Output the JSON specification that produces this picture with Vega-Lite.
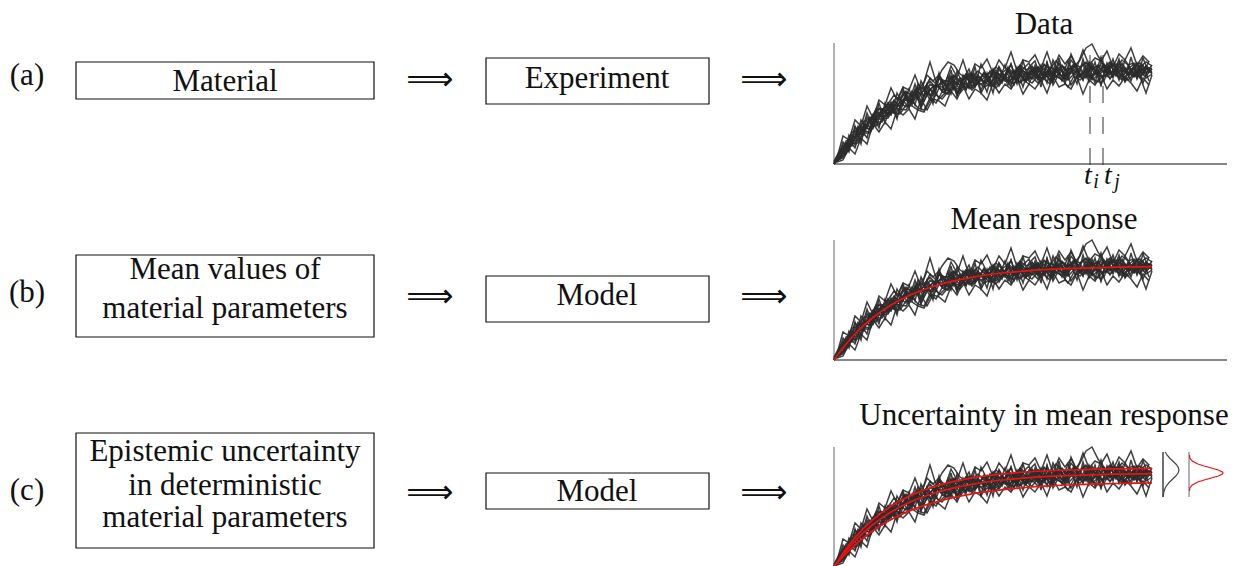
{
"$schema": "https://vega.github.io/schema/vega-lite/v6.json",
"width": 1246, "height": 566, "padding": 0, "autosize": {"type": "none"},
"background": "white",
"config": {"view": {"stroke": null}},
"datasets": {
"boxes": [
{"x1":76,"x2":374,"y1":62,"y2":99},
{"x1":486,"x2":709,"y1":58,"y2":104},
{"x1":76,"x2":374,"y1":255,"y2":337},
{"x1":486,"x2":709,"y1":276,"y2":322},
{"x1":76,"x2":374,"y1":433,"y2":548},
{"x1":486,"x2":709,"y1":473,"y2":509}
],
"labels": [
{"kind":"body","label":"(a)","cx":27,"cy":85},
{"kind":"body","label":"(b)","cx":27,"cy":302},
{"kind":"body","label":"(c)","cx":27,"cy":500},
{"kind":"body","label":"Material","cx":225,"cy":91},
{"kind":"body","label":"Experiment","cx":597,"cy":88},
{"kind":"body","label":"Mean values of","cx":225,"cy":279},
{"kind":"body","label":"material parameters","cx":225,"cy":318},
{"kind":"body","label":"Model","cx":597,"cy":305},
{"kind":"body","label":"Epistemic uncertainty","cx":225,"cy":461},
{"kind":"body","label":"in deterministic","cx":225,"cy":495},
{"kind":"body","label":"material parameters","cx":225,"cy":527},
{"kind":"body","label":"Model","cx":597,"cy":501},
{"kind":"body","label":"Data","cx":1044,"cy":34},
{"kind":"body","label":"Mean response","cx":1044,"cy":229},
{"kind":"body","label":"Uncertainty in mean response","cx":1044,"cy":425},
{"kind":"arrow","label":"⟹","cx":430,"cy":80},
{"kind":"arrow","label":"⟹","cx":764,"cy":80},
{"kind":"arrow","label":"⟹","cx":430,"cy":297},
{"kind":"arrow","label":"⟹","cx":764,"cy":297},
{"kind":"arrow","label":"⟹","cx":430,"cy":493},
{"kind":"arrow","label":"⟹","cx":764,"cy":493},
{"kind":"math","label":"t","cx":1088,"cy":184},
{"kind":"math","label":"t","cx":1108,"cy":184},
{"kind":"sub","label":"i","cx":1096,"cy":188},
{"kind":"sub","label":"j","cx":1117,"cy":188}
],
"rules": [
{"kind":"k","a":834,"b":164,"a2":1227,"b2":164},
{"kind":"k","a":834,"b":360,"a2":1227,"b2":360},
{"kind":"k","a":1163,"b":452,"a2":1163,"b2":497},
{"kind":"g","a":834,"b":43,"a2":834,"b2":164},
{"kind":"g","a":834,"b":240,"a2":834,"b2":360},
{"kind":"g","a":834,"b":447,"a2":834,"b2":566},
{"kind":"g","a":1189,"b":452,"a2":1189,"b2":497},
{"kind":"d","a":1090,"b":165,"a2":1090,"b2":48},
{"kind":"d","a":1103,"b":165,"a2":1103,"b2":48}
],
"bells": [
{"g":"k","o":1,"cx":1165.2,"cy":452},{"g":"k","o":2,"cx":1167.0,"cy":455},{"g":"k","o":3,"cx":1169.6,"cy":458},{"g":"k","o":4,"cx":1172.7,"cy":461},{"g":"k","o":5,"cx":1175.8,"cy":464},{"g":"k","o":6,"cx":1178.1,"cy":467},{"g":"k","o":7,"cx":1179.0,"cy":470},{"g":"k","o":8,"cx":1178.1,"cy":473},{"g":"k","o":9,"cx":1175.8,"cy":476},{"g":"k","o":10,"cx":1172.7,"cy":479},{"g":"k","o":11,"cx":1169.6,"cy":482},{"g":"k","o":12,"cx":1167.0,"cy":485},{"g":"k","o":13,"cx":1165.2,"cy":488},{"g":"k","o":14,"cx":1164.1,"cy":491},{"g":"k","o":15,"cx":1163.5,"cy":494},{"g":"k","o":16,"cx":1163.2,"cy":497},
{"g":"r","o":1,"cx":1189.5,"cy":455},{"g":"r","o":2,"cx":1189.8,"cy":458},{"g":"r","o":3,"cx":1192.2,"cy":461},{"g":"r","o":4,"cx":1197.9,"cy":464},{"g":"r","o":5,"cx":1204.1,"cy":466},{"g":"r","o":6,"cx":1211.5,"cy":468},{"g":"r","o":7,"cx":1218.3,"cy":470},{"g":"r","o":8,"cx":1222.4,"cy":472},{"g":"r","o":9,"cx":1223.0,"cy":473},{"g":"r","o":10,"cx":1222.4,"cy":474},{"g":"r","o":11,"cx":1218.3,"cy":476},{"g":"r","o":12,"cx":1211.5,"cy":478},{"g":"r","o":13,"cx":1204.1,"cy":480},{"g":"r","o":14,"cx":1197.9,"cy":482},{"g":"r","o":15,"cx":1192.2,"cy":485},{"g":"r","o":16,"cx":1189.8,"cy":488},{"g":"r","o":17,"cx":1189.5,"cy":491}
],
"mean": [
{"k":"mid","t":0,"v":0},{"k":"mid","t":6,"v":8.3},{"k":"mid","t":12,"v":15.8},{"k":"mid","t":18,"v":22.7},{"k":"mid","t":24,"v":29.0},{"k":"mid","t":30,"v":34.8},{"k":"mid","t":36,"v":40.0},{"k":"mid","t":42,"v":44.7},{"k":"mid","t":48,"v":49.1},{"k":"mid","t":54,"v":53.0},{"k":"mid","t":60,"v":56.7},{"k":"mid","t":72,"v":62.9},{"k":"mid","t":84,"v":68.2},{"k":"mid","t":96,"v":72.5},{"k":"mid","t":108,"v":76.2},{"k":"mid","t":120,"v":79.2},{"k":"mid","t":138,"v":82.7},{"k":"mid","t":156,"v":85.5},{"k":"mid","t":174,"v":87.5},{"k":"mid","t":192,"v":89.1},{"k":"mid","t":210,"v":90.3},{"k":"mid","t":234,"v":91.4},{"k":"mid","t":258,"v":92.2},{"k":"mid","t":282,"v":92.8},{"k":"mid","t":306,"v":93.2},{"k":"mid","t":318,"v":93.3},
{"k":"up","t":0,"v":0},{"k":"up","t":6,"v":9.4},{"k":"up","t":12,"v":17.9},{"k":"up","t":18,"v":25.7},{"k":"up","t":24,"v":32.6},{"k":"up","t":30,"v":39.0},{"k":"up","t":36,"v":44.7},{"k":"up","t":42,"v":49.8},{"k":"up","t":48,"v":54.5},{"k":"up","t":54,"v":58.7},{"k":"up","t":60,"v":62.6},{"k":"up","t":72,"v":69.2},{"k":"up","t":84,"v":74.6},{"k":"up","t":96,"v":79.0},{"k":"up","t":108,"v":82.6},{"k":"up","t":120,"v":85.6},{"k":"up","t":138,"v":89.1},{"k":"up","t":156,"v":91.6},{"k":"up","t":174,"v":93.6},{"k":"up","t":192,"v":95.0},{"k":"up","t":210,"v":96.0},{"k":"up","t":234,"v":97.0},{"k":"up","t":258,"v":97.7},{"k":"up","t":282,"v":98.1},{"k":"up","t":306,"v":98.4},{"k":"up","t":318,"v":98.5},
{"k":"lo","t":0,"v":0},{"k":"lo","t":6,"v":7.0},{"k":"lo","t":12,"v":13.4},{"k":"lo","t":18,"v":19.3},{"k":"lo","t":24,"v":24.7},{"k":"lo","t":30,"v":29.6},{"k":"lo","t":36,"v":34.2},{"k":"lo","t":42,"v":38.4},{"k":"lo","t":48,"v":42.2},{"k":"lo","t":54,"v":45.7},{"k":"lo","t":60,"v":48.9},{"k":"lo","t":72,"v":54.6},{"k":"lo","t":84,"v":59.4},{"k":"lo","t":96,"v":63.4},{"k":"lo","t":108,"v":66.8},{"k":"lo","t":120,"v":69.7},{"k":"lo","t":138,"v":73.2},{"k":"lo","t":156,"v":75.8},{"k":"lo","t":174,"v":77.9},{"k":"lo","t":192,"v":79.5},{"k":"lo","t":210,"v":80.8},{"k":"lo","t":234,"v":82.0},{"k":"lo","t":258,"v":82.9},{"k":"lo","t":282,"v":83.5},{"k":"lo","t":306,"v":83.9},{"k":"lo","t":318,"v":84.1}
],
"noise": [
{"s":1,"t":0,"v":2},{"s":1,"t":6,"v":5},{"s":1,"t":12,"v":20},{"s":1,"t":18,"v":18},{"s":1,"t":24,"v":35},{"s":1,"t":30,"v":33},{"s":1,"t":36,"v":45},{"s":1,"t":42,"v":38},{"s":1,"t":48,"v":52},{"s":1,"t":54,"v":61},{"s":1,"t":60,"v":53},{"s":1,"t":66,"v":62},{"s":1,"t":72,"v":57},{"s":1,"t":78,"v":73},{"s":1,"t":84,"v":65},{"s":1,"t":90,"v":75},{"s":1,"t":96,"v":64},{"s":1,"t":102,"v":78},{"s":1,"t":108,"v":77},{"s":1,"t":114,"v":73},{"s":1,"t":120,"v":88},{"s":1,"t":126,"v":78},{"s":1,"t":132,"v":88},{"s":1,"t":138,"v":76},{"s":1,"t":144,"v":87},{"s":1,"t":150,"v":81},{"s":1,"t":156,"v":93},{"s":1,"t":162,"v":85},{"s":1,"t":168,"v":92},{"s":1,"t":174,"v":79},{"s":1,"t":180,"v":90},{"s":1,"t":186,"v":96},{"s":1,"t":192,"v":86},{"s":1,"t":198,"v":94},{"s":1,"t":204,"v":84},{"s":1,"t":210,"v":100},{"s":1,"t":216,"v":89},{"s":1,"t":222,"v":94},{"s":1,"t":228,"v":83},{"s":1,"t":234,"v":96},{"s":1,"t":240,"v":93},{"s":1,"t":246,"v":88},{"s":1,"t":252,"v":99},{"s":1,"t":258,"v":87},{"s":1,"t":264,"v":94},{"s":1,"t":270,"v":83},{"s":1,"t":276,"v":99},{"s":1,"t":282,"v":90},{"s":1,"t":288,"v":101},{"s":1,"t":294,"v":91},{"s":1,"t":300,"v":97},{"s":1,"t":306,"v":87},{"s":1,"t":312,"v":96},{"s":1,"t":318,"v":92},
{"s":2,"t":0,"v":0},{"s":2,"t":6,"v":12},{"s":2,"t":12,"v":14},{"s":2,"t":18,"v":29},{"s":2,"t":24,"v":25},{"s":2,"t":30,"v":38},{"s":2,"t":36,"v":34},{"s":2,"t":42,"v":53},{"s":2,"t":48,"v":48},{"s":2,"t":54,"v":48},{"s":2,"t":60,"v":63},{"s":2,"t":66,"v":57},{"s":2,"t":72,"v":67},{"s":2,"t":78,"v":59},{"s":2,"t":84,"v":77},{"s":2,"t":90,"v":68},{"s":2,"t":96,"v":75},{"s":2,"t":102,"v":69},{"s":2,"t":108,"v":83},{"s":2,"t":114,"v":74},{"s":2,"t":120,"v":78},{"s":2,"t":126,"v":86},{"s":2,"t":132,"v":74},{"s":2,"t":138,"v":87},{"s":2,"t":144,"v":81},{"s":2,"t":150,"v":92},{"s":2,"t":156,"v":80},{"s":2,"t":162,"v":88},{"s":2,"t":168,"v":81},{"s":2,"t":174,"v":97},{"s":2,"t":180,"v":84},{"s":2,"t":186,"v":92},{"s":2,"t":192,"v":82},{"s":2,"t":198,"v":95},{"s":2,"t":204,"v":88},{"s":2,"t":210,"v":96},{"s":2,"t":216,"v":82},{"s":2,"t":222,"v":95},{"s":2,"t":228,"v":93},{"s":2,"t":234,"v":85},{"s":2,"t":240,"v":100},{"s":2,"t":246,"v":89},{"s":2,"t":252,"v":87},{"s":2,"t":258,"v":98},{"s":2,"t":264,"v":90},{"s":2,"t":270,"v":100},{"s":2,"t":276,"v":89},{"s":2,"t":282,"v":96},{"s":2,"t":288,"v":85},{"s":2,"t":294,"v":98},{"s":2,"t":300,"v":90},{"s":2,"t":306,"v":99},{"s":2,"t":312,"v":88},{"s":2,"t":318,"v":95},
{"s":3,"t":0,"v":1},{"s":3,"t":6,"v":6},{"s":3,"t":12,"v":21},{"s":3,"t":18,"v":19},{"s":3,"t":24,"v":31},{"s":3,"t":30,"v":29},{"s":3,"t":36,"v":47},{"s":3,"t":42,"v":42},{"s":3,"t":48,"v":55},{"s":3,"t":54,"v":48},{"s":3,"t":60,"v":60},{"s":3,"t":66,"v":52},{"s":3,"t":72,"v":68},{"s":3,"t":78,"v":64},{"s":3,"t":84,"v":80},{"s":3,"t":90,"v":74},{"s":3,"t":96,"v":86},{"s":3,"t":102,"v":80},{"s":3,"t":108,"v":73},{"s":3,"t":114,"v":88},{"s":3,"t":120,"v":74},{"s":3,"t":126,"v":84},{"s":3,"t":132,"v":75},{"s":3,"t":138,"v":91},{"s":3,"t":144,"v":82},{"s":3,"t":150,"v":90},{"s":3,"t":156,"v":79},{"s":3,"t":162,"v":89},{"s":3,"t":168,"v":83},{"s":3,"t":174,"v":95},{"s":3,"t":180,"v":79},{"s":3,"t":186,"v":94},{"s":3,"t":192,"v":86},{"s":3,"t":198,"v":98},{"s":3,"t":204,"v":85},{"s":3,"t":210,"v":92},{"s":3,"t":216,"v":84},{"s":3,"t":222,"v":97},{"s":3,"t":228,"v":87},{"s":3,"t":234,"v":103},{"s":3,"t":240,"v":90},{"s":3,"t":246,"v":96},{"s":3,"t":252,"v":86},{"s":3,"t":258,"v":101},{"s":3,"t":264,"v":89},{"s":3,"t":270,"v":98},{"s":3,"t":276,"v":85},{"s":3,"t":282,"v":95},{"s":3,"t":288,"v":99},{"s":3,"t":294,"v":89},{"s":3,"t":300,"v":96},{"s":3,"t":306,"v":86},{"s":3,"t":312,"v":98},{"s":3,"t":318,"v":90},
{"s":4,"t":0,"v":0},{"s":4,"t":6,"v":5},{"s":4,"t":12,"v":10},{"s":4,"t":18,"v":21},{"s":4,"t":24,"v":21},{"s":4,"t":30,"v":31},{"s":4,"t":36,"v":31},{"s":4,"t":42,"v":42},{"s":4,"t":48,"v":42},{"s":4,"t":54,"v":52},{"s":4,"t":60,"v":51},{"s":4,"t":66,"v":50},{"s":4,"t":72,"v":59},{"s":4,"t":78,"v":58},{"s":4,"t":84,"v":54},{"s":4,"t":90,"v":52},{"s":4,"t":96,"v":63},{"s":4,"t":102,"v":69},{"s":4,"t":108,"v":65},{"s":4,"t":114,"v":72},{"s":4,"t":120,"v":76},{"s":4,"t":126,"v":71},{"s":4,"t":132,"v":78},{"s":4,"t":138,"v":76},{"s":4,"t":144,"v":82},{"s":4,"t":150,"v":77},{"s":4,"t":156,"v":80},{"s":4,"t":162,"v":76},{"s":4,"t":168,"v":84},{"s":4,"t":174,"v":82},{"s":4,"t":180,"v":87},{"s":4,"t":186,"v":82},{"s":4,"t":192,"v":85},{"s":4,"t":198,"v":81},{"s":4,"t":204,"v":88},{"s":4,"t":210,"v":85},{"s":4,"t":216,"v":80},{"s":4,"t":222,"v":88},{"s":4,"t":228,"v":85},{"s":4,"t":234,"v":77},{"s":4,"t":240,"v":88},{"s":4,"t":246,"v":84},{"s":4,"t":252,"v":90},{"s":4,"t":258,"v":86},{"s":4,"t":264,"v":82},{"s":4,"t":270,"v":90},{"s":4,"t":276,"v":86},{"s":4,"t":282,"v":92},{"s":4,"t":288,"v":88},{"s":4,"t":294,"v":84},{"s":4,"t":300,"v":90},{"s":4,"t":306,"v":87},{"s":4,"t":312,"v":71},{"s":4,"t":318,"v":89},
{"s":5,"t":0,"v":3},{"s":5,"t":6,"v":14},{"s":5,"t":12,"v":18},{"s":5,"t":18,"v":32},{"s":5,"t":24,"v":33},{"s":5,"t":30,"v":43},{"s":5,"t":36,"v":43},{"s":5,"t":42,"v":55},{"s":5,"t":48,"v":54},{"s":5,"t":54,"v":60},{"s":5,"t":60,"v":69},{"s":5,"t":66,"v":64},{"s":5,"t":72,"v":72},{"s":5,"t":78,"v":69},{"s":5,"t":84,"v":76},{"s":5,"t":90,"v":76},{"s":5,"t":96,"v":83},{"s":5,"t":102,"v":76},{"s":5,"t":108,"v":83},{"s":5,"t":114,"v":83},{"s":5,"t":120,"v":89},{"s":5,"t":126,"v":83},{"s":5,"t":132,"v":90},{"s":5,"t":138,"v":87},{"s":5,"t":144,"v":93},{"s":5,"t":150,"v":87},{"s":5,"t":156,"v":92},{"s":5,"t":162,"v":97},{"s":5,"t":168,"v":91},{"s":5,"t":174,"v":96},{"s":5,"t":180,"v":91},{"s":5,"t":186,"v":99},{"s":5,"t":192,"v":94},{"s":5,"t":198,"v":97},{"s":5,"t":204,"v":92},{"s":5,"t":210,"v":99},{"s":5,"t":216,"v":95},{"s":5,"t":222,"v":103},{"s":5,"t":228,"v":97},{"s":5,"t":234,"v":94},{"s":5,"t":240,"v":100},{"s":5,"t":246,"v":97},{"s":5,"t":252,"v":102},{"s":5,"t":258,"v":94},{"s":5,"t":264,"v":99},{"s":5,"t":270,"v":97},{"s":5,"t":276,"v":102},{"s":5,"t":282,"v":96},{"s":5,"t":288,"v":104},{"s":5,"t":294,"v":99},{"s":5,"t":300,"v":101},{"s":5,"t":306,"v":97},{"s":5,"t":312,"v":102},{"s":5,"t":318,"v":98},
{"s":6,"t":0,"v":1},{"s":6,"t":6,"v":10},{"s":6,"t":12,"v":12},{"s":6,"t":18,"v":26},{"s":6,"t":24,"v":28},{"s":6,"t":30,"v":40},{"s":6,"t":36,"v":37},{"s":6,"t":42,"v":46},{"s":6,"t":48,"v":55},{"s":6,"t":54,"v":49},{"s":6,"t":60,"v":59},{"s":6,"t":66,"v":58},{"s":6,"t":72,"v":70},{"s":6,"t":78,"v":61},{"s":6,"t":84,"v":69},{"s":6,"t":90,"v":73},{"s":6,"t":96,"v":68},{"s":6,"t":102,"v":80},{"s":6,"t":108,"v":74},{"s":6,"t":114,"v":78},{"s":6,"t":120,"v":84},{"s":6,"t":126,"v":74},{"s":6,"t":132,"v":84},{"s":6,"t":138,"v":87},{"s":6,"t":144,"v":81},{"s":6,"t":150,"v":86},{"s":6,"t":156,"v":91},{"s":6,"t":162,"v":81},{"s":6,"t":168,"v":90},{"s":6,"t":174,"v":86},{"s":6,"t":180,"v":92},{"s":6,"t":186,"v":88},{"s":6,"t":192,"v":83},{"s":6,"t":198,"v":93},{"s":6,"t":204,"v":95},{"s":6,"t":210,"v":87},{"s":6,"t":216,"v":93},{"s":6,"t":222,"v":87},{"s":6,"t":228,"v":98},{"s":6,"t":234,"v":90},{"s":6,"t":240,"v":95},{"s":6,"t":246,"v":87},{"s":6,"t":252,"v":94},{"s":6,"t":258,"v":98},{"s":6,"t":264,"v":88},{"s":6,"t":270,"v":94},{"s":6,"t":276,"v":90},{"s":6,"t":282,"v":98},{"s":6,"t":288,"v":91},{"s":6,"t":294,"v":96},{"s":6,"t":300,"v":88},{"s":6,"t":306,"v":94},{"s":6,"t":312,"v":97},{"s":6,"t":318,"v":91},
{"s":7,"t":0,"v":2},{"s":7,"t":6,"v":7},{"s":7,"t":12,"v":20},{"s":7,"t":18,"v":20},{"s":7,"t":24,"v":34},{"s":7,"t":30,"v":35},{"s":7,"t":36,"v":46},{"s":7,"t":42,"v":43},{"s":7,"t":48,"v":53},{"s":7,"t":54,"v":54},{"s":7,"t":60,"v":64},{"s":7,"t":66,"v":57},{"s":7,"t":72,"v":68},{"s":7,"t":78,"v":68},{"s":7,"t":84,"v":74},{"s":7,"t":90,"v":82},{"s":7,"t":96,"v":102},{"s":7,"t":102,"v":82},{"s":7,"t":108,"v":94},{"s":7,"t":114,"v":102},{"s":7,"t":120,"v":99},{"s":7,"t":126,"v":90},{"s":7,"t":132,"v":86},{"s":7,"t":138,"v":81},{"s":7,"t":144,"v":89},{"s":7,"t":150,"v":81},{"s":7,"t":156,"v":88},{"s":7,"t":162,"v":92},{"s":7,"t":168,"v":86},{"s":7,"t":174,"v":92},{"s":7,"t":180,"v":85},{"s":7,"t":186,"v":96},{"s":7,"t":192,"v":91},{"s":7,"t":198,"v":85},{"s":7,"t":204,"v":95},{"s":7,"t":210,"v":91},{"s":7,"t":216,"v":89},{"s":7,"t":222,"v":97},{"s":7,"t":228,"v":94},{"s":7,"t":234,"v":87},{"s":7,"t":240,"v":97},{"s":7,"t":246,"v":104},{"s":7,"t":252,"v":116},{"s":7,"t":258,"v":120},{"s":7,"t":264,"v":108},{"s":7,"t":270,"v":99},{"s":7,"t":276,"v":90},{"s":7,"t":282,"v":97},{"s":7,"t":288,"v":87},{"s":7,"t":294,"v":95},{"s":7,"t":300,"v":100},{"s":7,"t":306,"v":91},{"s":7,"t":312,"v":98},{"s":7,"t":318,"v":94},
{"s":8,"t":0,"v":0},{"s":8,"t":6,"v":13},{"s":8,"t":12,"v":17},{"s":8,"t":18,"v":20},{"s":8,"t":24,"v":36},{"s":8,"t":30,"v":37},{"s":8,"t":36,"v":35},{"s":8,"t":42,"v":49},{"s":8,"t":48,"v":47},{"s":8,"t":54,"v":61},{"s":8,"t":60,"v":51},{"s":8,"t":66,"v":63},{"s":8,"t":72,"v":64},{"s":8,"t":78,"v":62},{"s":8,"t":84,"v":73},{"s":8,"t":90,"v":63},{"s":8,"t":96,"v":74},{"s":8,"t":102,"v":80},{"s":8,"t":108,"v":73},{"s":8,"t":114,"v":70},{"s":8,"t":120,"v":83},{"s":8,"t":126,"v":79},{"s":8,"t":132,"v":89},{"s":8,"t":138,"v":78},{"s":8,"t":144,"v":87},{"s":8,"t":150,"v":83},{"s":8,"t":156,"v":78},{"s":8,"t":162,"v":91},{"s":8,"t":168,"v":88},{"s":8,"t":174,"v":84},{"s":8,"t":180,"v":94},{"s":8,"t":186,"v":81},{"s":8,"t":192,"v":92},{"s":8,"t":198,"v":89},{"s":8,"t":204,"v":97},{"s":8,"t":210,"v":85},{"s":8,"t":216,"v":95},{"s":8,"t":222,"v":88},{"s":8,"t":228,"v":84},{"s":8,"t":234,"v":93},{"s":8,"t":240,"v":98},{"s":8,"t":246,"v":88},{"s":8,"t":252,"v":95},{"s":8,"t":258,"v":86},{"s":8,"t":264,"v":97},{"s":8,"t":270,"v":91},{"s":8,"t":276,"v":101},{"s":8,"t":282,"v":88},{"s":8,"t":288,"v":96},{"s":8,"t":294,"v":92},{"s":8,"t":300,"v":87},{"s":8,"t":306,"v":97},{"s":8,"t":312,"v":91},{"s":8,"t":318,"v":99},
{"s":9,"t":0,"v":0},{"s":9,"t":6,"v":7},{"s":9,"t":12,"v":11},{"s":9,"t":18,"v":24},{"s":9,"t":24,"v":23},{"s":9,"t":30,"v":33},{"s":9,"t":36,"v":32},{"s":9,"t":42,"v":45},{"s":9,"t":48,"v":45},{"s":9,"t":54,"v":46},{"s":9,"t":60,"v":56},{"s":9,"t":66,"v":55},{"s":9,"t":72,"v":54},{"s":9,"t":78,"v":63},{"s":9,"t":84,"v":56},{"s":9,"t":90,"v":54},{"s":9,"t":96,"v":66},{"s":9,"t":102,"v":61},{"s":9,"t":108,"v":72},{"s":9,"t":114,"v":70},{"s":9,"t":120,"v":77},{"s":9,"t":126,"v":74},{"s":9,"t":132,"v":81},{"s":9,"t":138,"v":74},{"s":9,"t":144,"v":81},{"s":9,"t":150,"v":80},{"s":9,"t":156,"v":85},{"s":9,"t":162,"v":79},{"s":9,"t":168,"v":85},{"s":9,"t":174,"v":84},{"s":9,"t":180,"v":80},{"s":9,"t":186,"v":90},{"s":9,"t":192,"v":84},{"s":9,"t":198,"v":87},{"s":9,"t":204,"v":81},{"s":9,"t":210,"v":89},{"s":9,"t":216,"v":85},{"s":9,"t":222,"v":93},{"s":9,"t":228,"v":87},{"s":9,"t":234,"v":84},{"s":9,"t":240,"v":90},{"s":9,"t":246,"v":87},{"s":9,"t":252,"v":93},{"s":9,"t":258,"v":84},{"s":9,"t":264,"v":89},{"s":9,"t":270,"v":87},{"s":9,"t":276,"v":93},{"s":9,"t":282,"v":89},{"s":9,"t":288,"v":84},{"s":9,"t":294,"v":91},{"s":9,"t":300,"v":88},{"s":9,"t":306,"v":94},{"s":9,"t":312,"v":86},{"s":9,"t":318,"v":90},
{"s":10,"t":0,"v":1},{"s":10,"t":6,"v":11},{"s":10,"t":12,"v":23},{"s":10,"t":18,"v":25},{"s":10,"t":24,"v":38},{"s":10,"t":30,"v":34},{"s":10,"t":36,"v":44},{"s":10,"t":42,"v":53},{"s":10,"t":48,"v":47},{"s":10,"t":54,"v":58},{"s":10,"t":60,"v":57},{"s":10,"t":66,"v":66},{"s":10,"t":72,"v":73},{"s":10,"t":78,"v":67},{"s":10,"t":84,"v":73},{"s":10,"t":90,"v":67},{"s":10,"t":96,"v":80},{"s":10,"t":102,"v":77},{"s":10,"t":108,"v":82},{"s":10,"t":114,"v":77},{"s":10,"t":120,"v":88},{"s":10,"t":126,"v":82},{"s":10,"t":132,"v":86},{"s":10,"t":138,"v":90},{"s":10,"t":144,"v":82},{"s":10,"t":150,"v":91},{"s":10,"t":156,"v":86},{"s":10,"t":162,"v":94},{"s":10,"t":168,"v":86},{"s":10,"t":174,"v":93},{"s":10,"t":180,"v":91},{"s":10,"t":186,"v":98},{"s":10,"t":192,"v":89},{"s":10,"t":198,"v":94},{"s":10,"t":204,"v":97},{"s":10,"t":210,"v":87},{"s":10,"t":216,"v":97},{"s":10,"t":222,"v":93},{"s":10,"t":228,"v":99},{"s":10,"t":234,"v":92},{"s":10,"t":240,"v":90},{"s":10,"t":246,"v":97},{"s":10,"t":252,"v":101},{"s":10,"t":258,"v":95},{"s":10,"t":264,"v":98},{"s":10,"t":270,"v":92},{"s":10,"t":276,"v":97},{"s":10,"t":282,"v":100},{"s":10,"t":288,"v":95},{"s":10,"t":294,"v":89},{"s":10,"t":300,"v":98},{"s":10,"t":306,"v":101},{"s":10,"t":312,"v":94},{"s":10,"t":318,"v":96},
{"s":11,"t":3,"v":6},{"s":11,"t":9,"v":28},{"s":11,"t":15,"v":24},{"s":11,"t":21,"v":44},{"s":11,"t":27,"v":38},{"s":11,"t":33,"v":58},{"s":11,"t":39,"v":46},{"s":11,"t":45,"v":64},{"s":11,"t":51,"v":59},{"s":11,"t":57,"v":76},{"s":11,"t":63,"v":64},{"s":11,"t":69,"v":77},{"s":11,"t":75,"v":74},{"s":11,"t":81,"v":89},{"s":11,"t":87,"v":73},{"s":11,"t":93,"v":89},{"s":11,"t":99,"v":83},{"s":11,"t":105,"v":89},{"s":11,"t":111,"v":80},{"s":11,"t":117,"v":98},{"s":11,"t":123,"v":87},{"s":11,"t":129,"v":104},{"s":11,"t":135,"v":85},{"s":11,"t":141,"v":100},{"s":11,"t":147,"v":96},{"s":11,"t":153,"v":105},{"s":11,"t":159,"v":91},{"s":11,"t":165,"v":104},{"s":11,"t":171,"v":96},{"s":11,"t":177,"v":112},{"s":11,"t":183,"v":93},{"s":11,"t":189,"v":104},{"s":11,"t":195,"v":102},{"s":11,"t":201,"v":109},{"s":11,"t":207,"v":96},{"s":11,"t":213,"v":112},{"s":11,"t":219,"v":94},{"s":11,"t":225,"v":109},{"s":11,"t":231,"v":100},{"s":11,"t":237,"v":108},{"s":11,"t":243,"v":97},{"s":11,"t":249,"v":114},{"s":11,"t":255,"v":99},{"s":11,"t":261,"v":106},{"s":11,"t":267,"v":103},{"s":11,"t":273,"v":113},{"s":11,"t":279,"v":97},{"s":11,"t":285,"v":110},{"s":11,"t":291,"v":104},{"s":11,"t":297,"v":116},{"s":11,"t":303,"v":99},{"s":11,"t":309,"v":108},{"s":11,"t":315,"v":102},
{"s":12,"t":3,"v":2},{"s":12,"t":9,"v":4},{"s":12,"t":15,"v":16},{"s":12,"t":21,"v":10},{"s":12,"t":27,"v":26},{"s":12,"t":33,"v":20},{"s":12,"t":39,"v":40},{"s":12,"t":45,"v":32},{"s":12,"t":51,"v":42},{"s":12,"t":57,"v":35},{"s":12,"t":63,"v":54},{"s":12,"t":69,"v":49},{"s":12,"t":75,"v":55},{"s":12,"t":81,"v":45},{"s":12,"t":87,"v":65},{"s":12,"t":93,"v":54},{"s":12,"t":99,"v":65},{"s":12,"t":105,"v":63},{"s":12,"t":111,"v":58},{"s":12,"t":117,"v":73},{"s":12,"t":123,"v":65},{"s":12,"t":129,"v":78},{"s":12,"t":135,"v":65},{"s":12,"t":141,"v":75},{"s":12,"t":147,"v":71},{"s":12,"t":153,"v":64},{"s":12,"t":159,"v":81},{"s":12,"t":165,"v":71},{"s":12,"t":171,"v":80},{"s":12,"t":177,"v":75},{"s":12,"t":183,"v":85},{"s":12,"t":189,"v":70},{"s":12,"t":195,"v":80},{"s":12,"t":201,"v":75},{"s":12,"t":207,"v":84},{"s":12,"t":213,"v":71},{"s":12,"t":219,"v":88},{"s":12,"t":225,"v":77},{"s":12,"t":231,"v":80},{"s":12,"t":237,"v":75},{"s":12,"t":243,"v":87},{"s":12,"t":249,"v":70},{"s":12,"t":255,"v":84},{"s":12,"t":261,"v":79},{"s":12,"t":267,"v":89},{"s":12,"t":273,"v":75},{"s":12,"t":279,"v":84},{"s":12,"t":285,"v":78},{"s":12,"t":291,"v":87},{"s":12,"t":297,"v":81},{"s":12,"t":303,"v":73},{"s":12,"t":309,"v":86},{"s":12,"t":315,"v":79},
{"s":13,"t":3,"v":4},{"s":13,"t":9,"v":22},{"s":13,"t":15,"v":12},{"s":13,"t":21,"v":38},{"s":13,"t":27,"v":20},{"s":13,"t":33,"v":47},{"s":13,"t":39,"v":37},{"s":13,"t":45,"v":61},{"s":13,"t":51,"v":41},{"s":13,"t":57,"v":60},{"s":13,"t":63,"v":45},{"s":13,"t":69,"v":73},{"s":13,"t":75,"v":61},{"s":13,"t":81,"v":80},{"s":13,"t":87,"v":60},{"s":13,"t":93,"v":78},{"s":13,"t":99,"v":60},{"s":13,"t":105,"v":87},{"s":13,"t":111,"v":72},{"s":13,"t":117,"v":94},{"s":13,"t":123,"v":69},{"s":13,"t":129,"v":89},{"s":13,"t":135,"v":76},{"s":13,"t":141,"v":97},{"s":13,"t":147,"v":73},{"s":13,"t":153,"v":91},{"s":13,"t":159,"v":71},{"s":13,"t":165,"v":97},{"s":13,"t":171,"v":85},{"s":13,"t":177,"v":100},{"s":13,"t":183,"v":80},{"s":13,"t":189,"v":103},{"s":13,"t":195,"v":84},{"s":13,"t":201,"v":99},{"s":13,"t":207,"v":77},{"s":13,"t":213,"v":102},{"s":13,"t":219,"v":83},{"s":13,"t":225,"v":106},{"s":13,"t":231,"v":81},{"s":13,"t":237,"v":96},{"s":13,"t":243,"v":80},{"s":13,"t":249,"v":105},{"s":13,"t":255,"v":85},{"s":13,"t":261,"v":102},{"s":13,"t":267,"v":79},{"s":13,"t":273,"v":101},{"s":13,"t":279,"v":88},{"s":13,"t":285,"v":105},{"s":13,"t":291,"v":82},{"s":13,"t":297,"v":107},{"s":13,"t":303,"v":85},{"s":13,"t":309,"v":99},{"s":13,"t":315,"v":83},
{"s":14,"t":3,"v":5},{"s":14,"t":9,"v":19},{"s":14,"t":15,"v":15},{"s":14,"t":21,"v":37},{"s":14,"t":27,"v":30},{"s":14,"t":33,"v":51},{"s":14,"t":39,"v":36},{"s":14,"t":45,"v":56},{"s":14,"t":51,"v":53},{"s":14,"t":57,"v":49},{"s":14,"t":63,"v":71},{"s":14,"t":69,"v":59},{"s":14,"t":75,"v":75},{"s":14,"t":81,"v":59},{"s":14,"t":87,"v":83},{"s":14,"t":93,"v":71},{"s":14,"t":99,"v":68},{"s":14,"t":105,"v":86},{"s":14,"t":111,"v":83},{"s":14,"t":117,"v":70},{"s":14,"t":123,"v":93},{"s":14,"t":129,"v":79},{"s":14,"t":135,"v":91},{"s":14,"t":141,"v":78},{"s":14,"t":147,"v":100},{"s":14,"t":153,"v":88},{"s":14,"t":159,"v":78},{"s":14,"t":165,"v":97},{"s":14,"t":171,"v":87},{"s":14,"t":177,"v":100},{"s":14,"t":183,"v":82},{"s":14,"t":189,"v":95},{"s":14,"t":195,"v":101},{"s":14,"t":201,"v":86},{"s":14,"t":207,"v":99},{"s":14,"t":213,"v":81},{"s":14,"t":219,"v":104},{"s":14,"t":225,"v":91},{"s":14,"t":231,"v":85},{"s":14,"t":237,"v":104},{"s":14,"t":243,"v":96},{"s":14,"t":249,"v":84},{"s":14,"t":255,"v":102},{"s":14,"t":261,"v":89},{"s":14,"t":267,"v":107},{"s":14,"t":273,"v":88},{"s":14,"t":279,"v":101},{"s":14,"t":285,"v":84},{"s":14,"t":291,"v":104},{"s":14,"t":297,"v":95},{"s":14,"t":303,"v":86},{"s":14,"t":309,"v":106},{"s":14,"t":315,"v":91},
{"s":15,"t":3,"v":4},{"s":15,"t":9,"v":6},{"s":15,"t":15,"v":24},{"s":15,"t":21,"v":16},{"s":15,"t":27,"v":35},{"s":15,"t":33,"v":26},{"s":15,"t":39,"v":49},{"s":15,"t":45,"v":39},{"s":15,"t":51,"v":49},{"s":15,"t":57,"v":62},{"s":15,"t":63,"v":48},{"s":15,"t":69,"v":64},{"s":15,"t":75,"v":56},{"s":15,"t":81,"v":75},{"s":15,"t":87,"v":56},{"s":15,"t":93,"v":70},{"s":15,"t":99,"v":78},{"s":15,"t":105,"v":65},{"s":15,"t":111,"v":71},{"s":15,"t":117,"v":88},{"s":15,"t":123,"v":68},{"s":15,"t":129,"v":82},{"s":15,"t":135,"v":76},{"s":15,"t":141,"v":90},{"s":15,"t":147,"v":71},{"s":15,"t":153,"v":82},{"s":15,"t":159,"v":93},{"s":15,"t":165,"v":78},{"s":15,"t":171,"v":88},{"s":15,"t":177,"v":77},{"s":15,"t":183,"v":97},{"s":15,"t":189,"v":84},{"s":15,"t":195,"v":80},{"s":15,"t":201,"v":94},{"s":15,"t":207,"v":82},{"s":15,"t":213,"v":101},{"s":15,"t":219,"v":79},{"s":15,"t":225,"v":90},{"s":15,"t":231,"v":97},{"s":15,"t":237,"v":79},{"s":15,"t":243,"v":88},{"s":15,"t":249,"v":100},{"s":15,"t":255,"v":82},{"s":15,"t":261,"v":94},{"s":15,"t":267,"v":79},{"s":15,"t":273,"v":98},{"s":15,"t":279,"v":86},{"s":15,"t":285,"v":102},{"s":15,"t":291,"v":82},{"s":15,"t":297,"v":91},{"s":15,"t":303,"v":100},{"s":15,"t":309,"v":81},{"s":15,"t":315,"v":96},
{"s":16,"t":3,"v":7},{"s":16,"t":9,"v":8},{"s":16,"t":15,"v":29},{"s":16,"t":21,"v":19},{"s":16,"t":27,"v":44},{"s":16,"t":33,"v":36},{"s":16,"t":39,"v":49},{"s":16,"t":45,"v":36},{"s":16,"t":51,"v":61},{"s":16,"t":57,"v":50},{"s":16,"t":63,"v":62},{"s":16,"t":69,"v":76},{"s":16,"t":75,"v":57},{"s":16,"t":81,"v":72},{"s":16,"t":87,"v":57},{"s":16,"t":93,"v":80},{"s":16,"t":99,"v":70},{"s":16,"t":105,"v":91},{"s":16,"t":111,"v":71},{"s":16,"t":117,"v":87},{"s":16,"t":123,"v":70},{"s":16,"t":129,"v":85},{"s":16,"t":135,"v":95},{"s":16,"t":141,"v":77},{"s":16,"t":147,"v":87},{"s":16,"t":153,"v":72},{"s":16,"t":159,"v":95},{"s":16,"t":165,"v":83},{"s":16,"t":171,"v":99},{"s":16,"t":177,"v":80},{"s":16,"t":183,"v":94},{"s":16,"t":189,"v":77},{"s":16,"t":195,"v":97},{"s":16,"t":201,"v":103},{"s":16,"t":207,"v":85},{"s":16,"t":213,"v":93},{"s":16,"t":219,"v":82},{"s":16,"t":225,"v":101},{"s":16,"t":231,"v":85},{"s":16,"t":237,"v":110},{"s":16,"t":243,"v":96},{"s":16,"t":249,"v":84},{"s":16,"t":255,"v":98},{"s":16,"t":261,"v":81},{"s":16,"t":267,"v":102},{"s":16,"t":273,"v":90},{"s":16,"t":279,"v":105},{"s":16,"t":285,"v":86},{"s":16,"t":291,"v":96},{"s":16,"t":297,"v":83},{"s":16,"t":303,"v":101},{"s":16,"t":309,"v":89},{"s":16,"t":315,"v":103}
]
},
"resolve": {"scale": {"x": "independent", "y": "independent"}},
"layer": [
{
"layer": [
{"data": {"name": "boxes"}, "mark": {"type": "rect", "fill": "white", "stroke": "#111", "strokeWidth": 1.2},
 "encoding": {
  "x": {"field": "x1", "type": "quantitative", "scale": {"domain": [0, 1246], "nice": false, "zero": false}, "axis": null},
  "x2": {"field": "x2"},
  "y": {"field": "y1", "type": "quantitative", "scale": {"domain": [0, 566], "nice": false, "zero": false, "reverse": true}, "axis": null},
  "y2": {"field": "y2"}}},
{"data": {"name": "rules"}, "transform": [{"filter": "datum.kind === 'k'"}], "mark": {"type": "rule", "stroke": "#111", "strokeWidth": 1.2},
 "encoding": {"x": {"field": "a", "type": "quantitative"}, "x2": {"field": "a2"}, "y": {"field": "b", "type": "quantitative"}, "y2": {"field": "b2"}}},
{"data": {"name": "rules"}, "transform": [{"filter": "datum.kind === 'g'"}], "mark": {"type": "rule", "stroke": "#666", "strokeWidth": 1},
 "encoding": {"x": {"field": "a", "type": "quantitative"}, "x2": {"field": "a2"}, "y": {"field": "b", "type": "quantitative"}, "y2": {"field": "b2"}}},
{"data": {"name": "rules"}, "transform": [{"filter": "datum.kind === 'd'"}], "mark": {"type": "rule", "stroke": "#333", "strokeWidth": 1, "strokeDash": [17, 14]},
 "encoding": {"x": {"field": "a", "type": "quantitative"}, "x2": {"field": "a2"}, "y": {"field": "b", "type": "quantitative"}, "y2": {"field": "b2"}}},
{"data": {"name": "bells"}, "transform": [{"filter": "datum.g === 'k'"}], "mark": {"type": "line", "stroke": "#444", "strokeWidth": 1.2},
 "encoding": {"x": {"field": "cx", "type": "quantitative"}, "y": {"field": "cy", "type": "quantitative"}, "order": {"field": "o"}}},
{"data": {"name": "bells"}, "transform": [{"filter": "datum.g === 'r'"}], "mark": {"type": "line", "stroke": "#ee1111", "strokeWidth": 1.2},
 "encoding": {"x": {"field": "cx", "type": "quantitative"}, "y": {"field": "cy", "type": "quantitative"}, "order": {"field": "o"}}},
{"data": {"name": "labels"}, "transform": [{"filter": "datum.kind === 'body'"}], "mark": {"type": "text", "font": "Liberation Serif", "fontSize": 31, "align": "center", "baseline": "alphabetic", "color": "#111"},
 "encoding": {"x": {"field": "cx", "type": "quantitative"}, "y": {"field": "cy", "type": "quantitative"}, "text": {"field": "label"}}},
{"data": {"name": "labels"}, "transform": [{"filter": "datum.kind === 'arrow'"}], "mark": {"type": "text", "font": "DejaVu Sans", "fontSize": 33, "align": "center", "baseline": "middle", "color": "#111"},
 "encoding": {"x": {"field": "cx", "type": "quantitative"}, "y": {"field": "cy", "type": "quantitative"}, "text": {"field": "label"}}},
{"data": {"name": "labels"}, "transform": [{"filter": "datum.kind === 'math'"}], "mark": {"type": "text", "font": "Liberation Serif", "fontStyle": "italic", "fontSize": 28, "align": "center", "baseline": "alphabetic", "color": "#111"},
 "encoding": {"x": {"field": "cx", "type": "quantitative"}, "y": {"field": "cy", "type": "quantitative"}, "text": {"field": "label"}}},
{"data": {"name": "labels"}, "transform": [{"filter": "datum.kind === 'sub'"}], "mark": {"type": "text", "font": "Liberation Serif", "fontStyle": "italic", "fontSize": 20, "align": "center", "baseline": "alphabetic", "color": "#111"},
 "encoding": {"x": {"field": "cx", "type": "quantitative"}, "y": {"field": "cy", "type": "quantitative"}, "text": {"field": "label"}}}
]
},
{"data": {"name": "noise"}, "mark": {"type": "line", "stroke": "#2b2b2b", "strokeWidth": 1.5, "opacity": 0.9},
 "encoding": {
  "x": {"field": "t", "type": "quantitative", "scale": {"domain": [0, 318], "range": [834, 1152], "nice": false, "zero": false}, "axis": null},
  "y": {"field": "v", "type": "quantitative", "scale": {"domain": [0, 120], "range": [164, 44], "nice": false}, "axis": null},
  "detail": {"field": "s"}}},
{
"layer": [
{"data": {"name": "noise"}, "mark": {"type": "line", "stroke": "#2b2b2b", "strokeWidth": 1.5, "opacity": 0.9},
 "encoding": {
  "x": {"field": "t", "type": "quantitative", "scale": {"domain": [0, 318], "range": [834, 1152], "nice": false, "zero": false}, "axis": null},
  "y": {"field": "v", "type": "quantitative", "scale": {"domain": [0, 120], "range": [360, 240], "nice": false}, "axis": null},
  "detail": {"field": "s"}}},
{"data": {"name": "mean"}, "transform": [{"filter": "datum.k === 'mid'"}], "mark": {"type": "line", "stroke": "#f01010", "strokeWidth": 1.7, "interpolate": "monotone"},
 "encoding": {"x": {"field": "t", "type": "quantitative"}, "y": {"field": "v", "type": "quantitative"}}}
]
},
{
"layer": [
{"data": {"name": "noise"}, "mark": {"type": "line", "stroke": "#2b2b2b", "strokeWidth": 1.5, "opacity": 0.9},
 "encoding": {
  "x": {"field": "t", "type": "quantitative", "scale": {"domain": [0, 318], "range": [834, 1152], "nice": false, "zero": false}, "axis": null},
  "y": {"field": "v", "type": "quantitative", "scale": {"domain": [0, 120], "range": [567, 447], "nice": false}, "axis": null},
  "detail": {"field": "s"}}},
{"data": {"name": "mean"}, "mark": {"type": "line", "stroke": "#f01010", "strokeWidth": 1.7, "interpolate": "monotone"},
 "encoding": {"x": {"field": "t", "type": "quantitative"}, "y": {"field": "v", "type": "quantitative"}, "detail": {"field": "k"}}}
]
}
]
}
